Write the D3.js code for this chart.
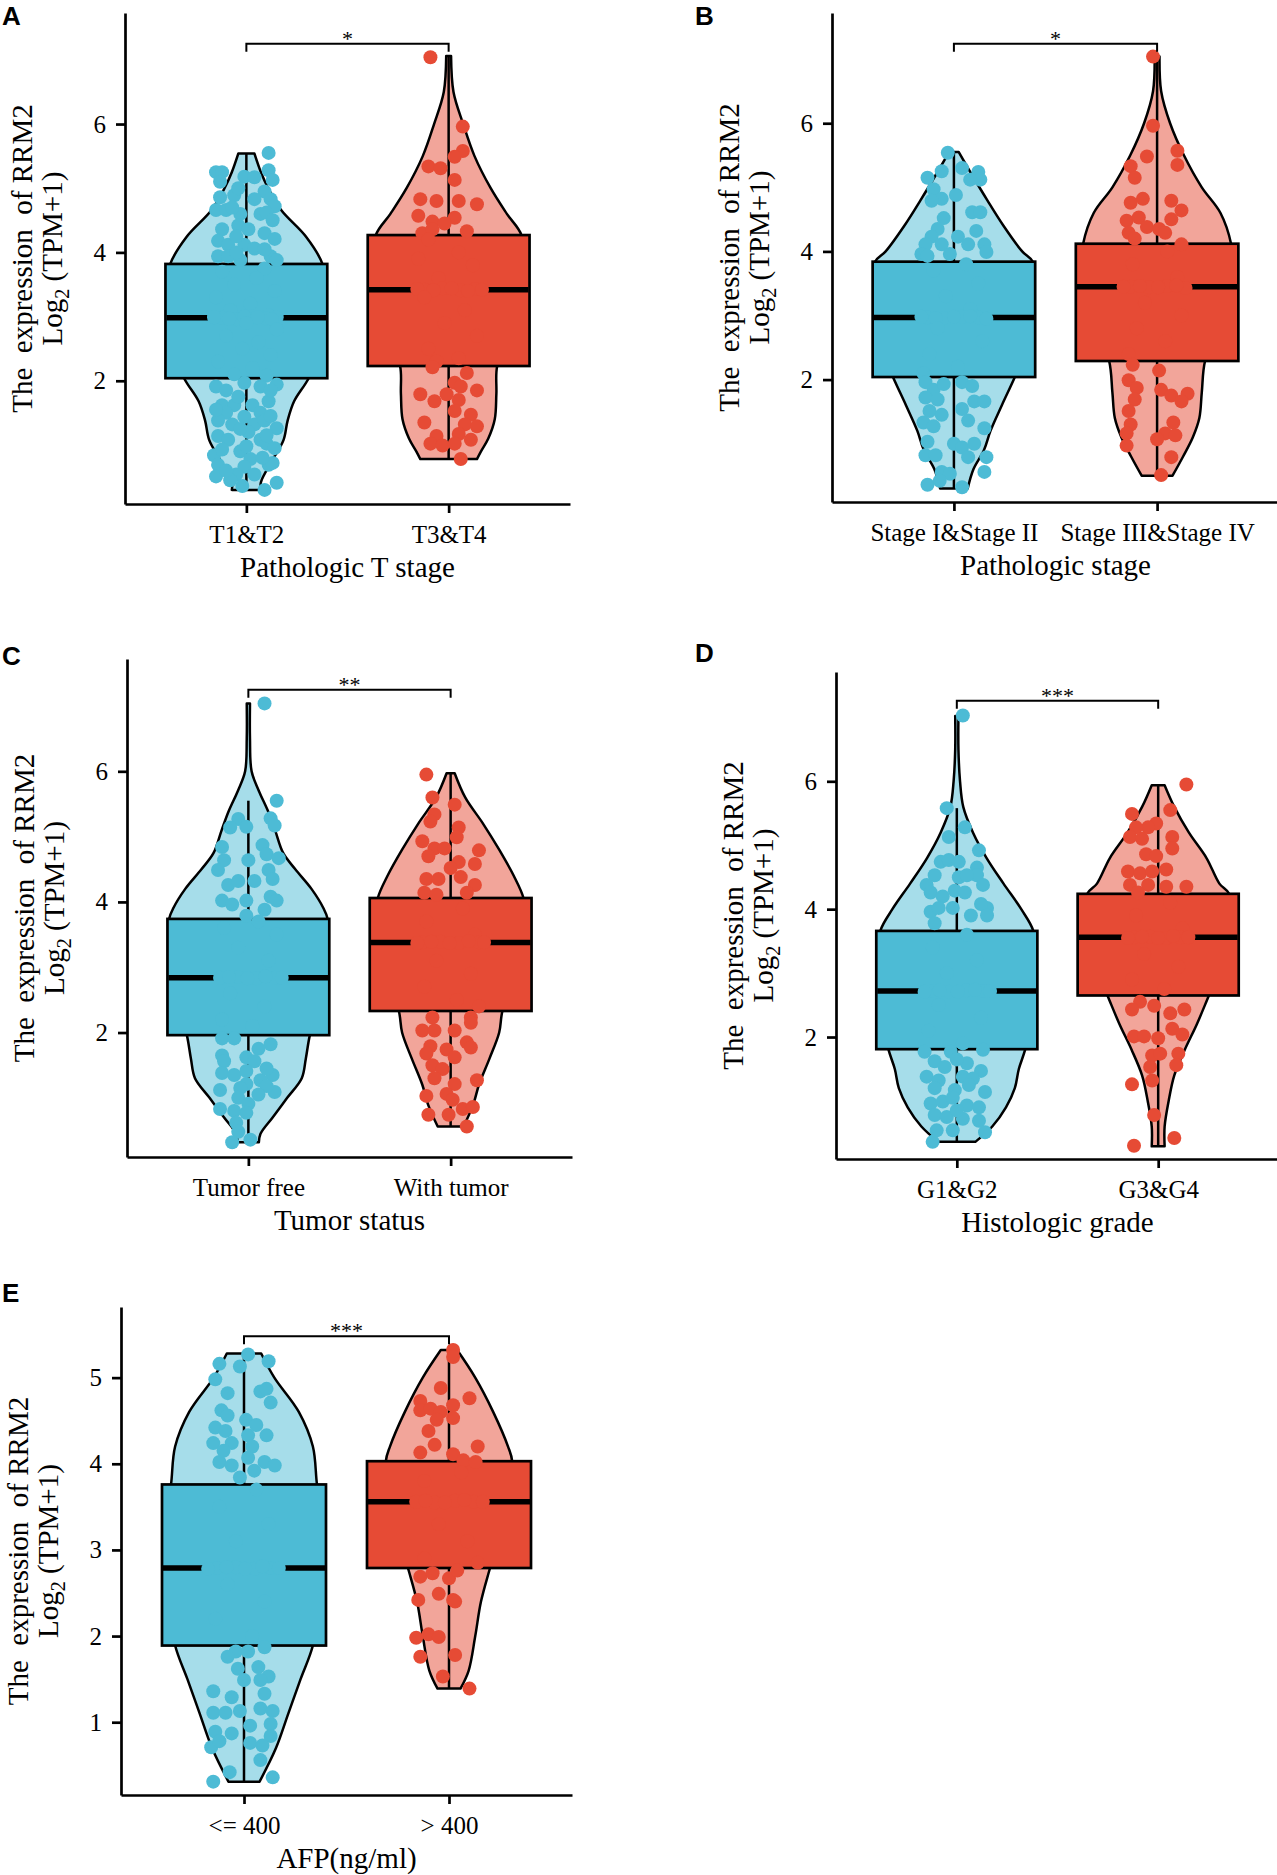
<!DOCTYPE html>
<html>
<head>
<meta charset="utf-8">
<script src="https://cdn.jsdelivr.net/npm/d3@7"></script>
<style>
    body { margin: 0; background: #fff; }
    svg text { font-family: "Liberation Serif", "Times New Roman", serif; }
</style>
</head>
<body>
<div id="chart"></div>
<script>

// ---------- data ----------
const panelIds = ["A", "B", "C", "D", "E"];
const xTitles = ["Pathologic T stage", "Pathologic stage", "Tumor status", "Histologic grade", "AFP(ng/ml)"];
const sigLevels = [7.25, 7.24, 7.25, 7.26, 5.48];
const sigLabels = ["*", "*", "**", "***", "***"];
const yTicksAD = [2, 4, 6];
const yTicksE = [1, 2, 3, 4, 5];

const groupsA = ["T1&T2", "T3&T4"];
const groupsB = ["Stage I&Stage II", "Stage III&Stage IV"];
const groupsC = ["Tumor free", "With tumor"];
const groupsD = ["G1&G2", "G3&G4"];
const groupsE = ["<= 400", "> 400"];

// [q1, median, q3]
const boxA = [[2.04, 2.98, 3.82], [2.23, 3.42, 4.27]];
const boxB = [[2.04, 2.97, 3.84], [2.29, 3.45, 4.12]];
const boxC = [[1.96, 2.84, 3.74], [2.33, 3.38, 4.06]];
const boxD = [[1.81, 2.72, 3.66], [2.65, 3.56, 4.24]];
const boxE = [[1.89, 2.79, 3.76], [2.79, 3.56, 4.03]];

// [low, high]
const whiskA = [[0.30, 5.54], [0.78, 7.06]];
const whiskB = [[0.30, 5.55], [0.50, 7.04]];
const whiskC = [[0.32, 5.55], [0.56, 5.97]];
const whiskD = [[0.36, 5.58], [0.29, 5.94]];
const whiskE = [[0.31, 5.28], [1.39, 5.32]];

// violin outline: [value, relative half width]
const violinA = [
    [[0.30,0.18],[0.42,0.18],[0.78,0.33],[1.08,0.46],[1.38,0.51],[1.68,0.59],[2.04,0.77],[2.5,0.92],[3.0,0.97],[3.4,0.98],[3.82,0.94],[4.24,0.74],[4.66,0.43],[5.0,0.27],[5.25,0.18],[5.54,0.10]],
    [[0.78,0.35],[0.9,0.40],[1.1,0.49],[1.4,0.57],[1.8,0.59],[2.23,0.60],[2.7,0.75],[3.2,0.88],[3.7,0.94],[4.27,0.90],[4.6,0.72],[5.0,0.52],[5.5,0.32],[6.0,0.18],[6.5,0.06],[7.06,0.03]]
];
const violinB = [
    [[0.30,0.17],[0.6,0.24],[0.9,0.37],[1.2,0.45],[1.6,0.59],[2.04,0.75],[2.5,0.90],[3.0,0.98],[3.5,0.99],[3.84,0.97],[4.0,0.84],[4.4,0.61],[4.8,0.41],[5.2,0.22],[5.55,0.06]],
    [[0.50,0.19],[0.8,0.32],[1.1,0.44],[1.4,0.52],[1.8,0.55],[2.29,0.59],[2.8,0.75],[3.3,0.88],[3.8,0.93],[4.12,0.91],[4.6,0.78],[5.0,0.55],[5.5,0.33],[6.0,0.16],[6.5,0.05],[7.04,0.03]]
];
const violinC = [
    [[0.32,0.13],[0.45,0.15],[0.7,0.30],[1.0,0.48],[1.3,0.66],[1.6,0.71],[1.96,0.76],[2.5,0.88],[3.0,0.96],[3.5,0.99],[3.74,0.98],[3.9,0.93],[4.2,0.78],[4.5,0.58],[4.75,0.43],[5.1,0.33],[5.4,0.24],[5.7,0.13],[6.0,0.04],[6.5,0.02],[7.04,0.02]],
    [[0.56,0.16],[0.9,0.28],[1.2,0.35],[1.6,0.48],[2.0,0.60],[2.33,0.64],[2.8,0.78],[3.3,0.88],[3.8,0.92],[4.06,0.90],[4.4,0.78],[4.8,0.60],[5.2,0.40],[5.6,0.18],[5.97,0.05]]
];
const violinD = [
    [[0.36,0.23],[0.6,0.44],[0.9,0.61],[1.2,0.72],[1.5,0.77],[1.81,0.85],[2.3,0.93],[2.8,0.97],[3.3,0.97],[3.66,0.95],[4.0,0.80],[4.4,0.58],[4.8,0.37],[5.2,0.20],[5.6,0.08],[6.0,0.04],[6.5,0.02],[7.02,0.02]],
    [[0.29,0.08],[0.6,0.08],[1.0,0.13],[1.4,0.20],[1.8,0.33],[2.2,0.48],[2.65,0.63],[3.1,0.78],[3.6,0.88],[4.24,0.88],[4.4,0.76],[4.8,0.60],[5.2,0.38],[5.6,0.20],[5.94,0.08]]
];
const violinE = [
    [[0.31,0.19],[0.7,0.39],[1.1,0.54],[1.5,0.69],[1.89,0.84],[2.4,0.92],[2.9,0.96],[3.4,0.95],[3.76,0.89],[4.2,0.84],[4.6,0.67],[5.0,0.37],[5.28,0.21]],
    [[1.39,0.14],[1.6,0.24],[2.0,0.32],[2.4,0.39],[2.79,0.50],[3.2,0.62],[3.6,0.72],[4.03,0.77],[4.2,0.72],[4.6,0.54],[5.0,0.32],[5.32,0.10]]
];

// jittered points: [value, jitter (x units)]
const dotsA = [
    [[5.55,0.11],[5.25,-0.15],[5.25,-0.12],[5.18,-0.01],[5.17,0.04],[5.28,0.11],[5.13,0.13],[5.10,-0.13],[4.86,-0.13],[4.89,-0.06],[4.95,0.09],[4.83,0.12],[4.72,0.14],[4.83,0.04],[4.66,-0.15],[4.66,-0.10],[4.60,-0.03],[4.60,0.07],[4.62,0.10],[4.36,-0.12],[4.42,-0.04],[4.36,0.01],[4.30,0.09],[4.21,0.14],[4.18,-0.14],[4.12,-0.09],[4.12,-0.01],[4.06,0.04],[3.94,-0.14],[3.94,-0.09],[3.94,0.12],[3.88,0.15],[3.88,-0.03],
     [4.50,0.13],[4.25,-0.05],[4.70,-0.07],[4.00,-0.05],[4.05,0.09],[5.00,-0.04],
     [3.75,0.09],[3.7,-0.12],[3.6,0.05],[3.5,-0.06],[3.4,0.14],[3.3,-0.15],[3.2,0.02],[3.1,-0.08],[3.02,0.11],[2.98,-0.12],[2.96,-0.05],[3.0,0.03],[2.97,0.10],[2.99,0.15],
     [2.99,-0.16],[2.97,-0.085],[3.0,-0.01],[2.99,0.055],[2.96,0.125],
     [2.9,0.0],[2.8,0.15],[2.7,-0.10],[2.6,0.06],[2.5,-0.02],[2.4,0.12],[2.3,-0.14],[2.2,0.03],[2.1,-0.06],[2.08,0.10],
     [1.91,-0.15],[1.85,-0.10],[1.97,-0.01],[1.91,0.07],[1.94,0.15],[1.68,0.11],[1.62,-0.12],[1.62,-0.06],[1.62,0.03],[1.50,0.07],[1.50,-0.10],[1.38,-0.14],[1.32,-0.07],[1.44,-0.01],[1.32,0.04],[1.38,0.09],[1.26,0.15],[1.14,-0.14],[1.08,-0.09],[1.20,0.01],[1.08,0.07],[1.02,0.10],[0.84,-0.16],[0.93,-0.12],[0.90,-0.03],[0.78,0.02],[0.69,-0.14],[0.66,-0.01],[0.69,0.11],[0.72,0.13],[0.54,-0.05],[0.54,0.04],[0.51,-0.15],[0.36,-0.02],[0.30,0.09],[0.41,0.15],[0.45,-0.08],
     [1.75,-0.04],[1.45,0.12],[1.25,-0.03],[0.98,0.00],[0.80,0.08],[0.60,-0.10],[1.55,-0.15],[1.85,0.12],[0.95,0.14],[1.15,0.10]],
    [[7.04,-0.09],[5.96,0.07],[5.58,0.07],[5.49,0.03],[5.34,-0.10],[5.31,-0.04],[5.13,0.03],[4.83,-0.14],[4.80,-0.06],[4.80,0.05],[4.75,0.14],[4.57,-0.15],[4.48,-0.08],[4.54,0.03],[4.30,-0.13],[4.36,-0.08],[4.33,0.09],[4.45,-0.02],
     [4.2,-0.10],[4.0,0.05],[3.9,-0.15],[3.8,0.12],[3.6,-0.05],[3.42,-0.12],[3.44,-0.03],[3.41,0.06],[3.43,0.13],
     [3.41,-0.075],[3.44,0.015],[3.40,0.095],[3.43,-0.155],[3.42,0.165],
     [3.3,-0.12],[3.1,0.08],[2.9,-0.02],[2.7,0.14],[2.5,-0.10],[2.35,0.05],[2.3,-0.06],
     [2.12,0.09],[2.21,-0.08],[1.97,0.03],[1.91,0.06],[1.85,0.14],[1.79,-0.14],[1.79,-0.01],[1.70,0.05],[1.68,-0.07],[1.53,0.03],[1.47,0.11],[1.35,-0.12],[1.32,0.08],[1.29,0.14],[1.14,-0.06],[1.17,0.05],[1.08,0.11],[1.02,-0.09],[0.99,-0.03],[1.02,0.03],[0.78,0.06]]
];
const dotsB = [
    [[5.54,-0.03],[5.15,-0.13],[5.25,-0.06],[5.30,0.04],[5.24,0.12],[5.12,0.13],[5.12,0.08],[4.97,-0.10],[4.82,-0.06],[4.88,0.01],[4.79,-0.11],[4.61,0.09],[4.61,0.13],[4.52,-0.05],[4.35,-0.08],[4.23,-0.11],[4.32,0.11],[4.11,-0.14],[4.11,-0.06],[4.23,0.02],[4.11,0.07],[4.11,0.15],[3.99,0.16],[3.96,-0.16],[3.93,-0.13],[3.96,-0.02],
     [3.8,0.06],[3.7,-0.10],[3.5,0.12],[3.3,-0.04],[3.1,0.08],[2.97,-0.13],[2.96,-0.05],[2.98,0.04],[2.97,0.12],
     [2.96,-0.09],[2.98,0.0],[2.99,0.08],[2.95,0.16],[2.98,-0.16],
     [2.8,-0.08],[2.6,0.14],[2.4,-0.12],[2.2,0.02],[2.1,-0.15],
     [1.96,-0.14],[1.84,-0.10],[1.93,-0.05],[1.96,0.04],[1.90,0.09],[1.72,-0.14],[1.69,-0.08],[1.66,0.10],[1.66,0.15],[1.51,-0.12],[1.45,-0.06],[1.54,0.04],[1.33,-0.15],[1.27,-0.10],[1.36,0.07],[1.24,0.15],[1.03,-0.13],[1.00,0.00],[0.94,0.04],[1.00,0.10],[0.82,-0.14],[0.82,-0.09],[0.79,0.07],[0.79,0.16],[0.56,-0.06],[0.53,-0.02],[0.56,0.15],[0.36,-0.13],[0.42,-0.07],[0.32,0.04]],
    [[7.04,-0.02],[5.96,-0.02],[5.48,-0.05],[5.57,0.10],[5.33,-0.13],[5.35,0.10],[5.15,-0.11],[4.76,-0.13],[4.82,-0.07],[4.79,0.07],[4.64,0.12],[4.48,-0.15],[4.53,-0.09],[4.50,0.07],[4.29,-0.14],[4.38,-0.05],[4.35,0.01],[4.29,0.04],[4.20,-0.11],[4.11,0.12],
     [4.0,0.05],[3.8,-0.12],[3.6,0.10],[3.45,-0.13],[3.44,-0.04],[3.46,0.05],[3.43,0.14],
     [3.46,-0.085],[3.44,0.005],[3.47,0.095],[3.45,-0.165],
     [3.2,-0.06],[3.0,0.12],[2.8,-0.10],[2.6,0.04],[2.4,-0.14],
     [2.23,-0.12],[2.14,0.01],[1.99,-0.14],[1.87,-0.10],[1.84,0.02],[1.75,0.07],[1.78,0.15],[1.66,0.12],[1.69,-0.11],[1.51,-0.14],[1.30,-0.13],[1.33,0.08],[1.16,0.04],[1.16,-0.15],[1.07,0.00],[1.13,0.09],[0.97,-0.15],[0.79,0.07],[0.51,0.02]]
];
const dotsC = [
    [[7.04,0.08],[5.55,0.14],[5.27,-0.05],[5.15,-0.01],[5.14,-0.09],[5.28,0.11],[5.17,0.13],[4.84,-0.13],[4.87,0.07],[4.64,-0.12],[4.49,-0.15],[4.64,0.00],[4.73,0.09],[4.67,0.15],[4.49,0.10],[4.35,0.12],[4.26,-0.10],[4.32,-0.05],[4.32,0.03],[4.02,-0.13],[3.96,-0.08],[4.02,-0.01],[4.08,0.11],[4.02,0.14],[3.88,0.08],[3.79,-0.01],
     [3.7,0.05],[3.6,-0.12],[3.5,0.14],[3.3,-0.05],[3.1,0.10],[2.84,-0.14],[2.85,-0.05],[2.83,0.04],[2.84,0.13],
     [2.85,-0.095],[2.83,-0.005],[2.86,0.085],[2.84,0.165],
     [2.6,-0.09],[2.4,0.08],[2.2,-0.13],[2.1,0.02],
     [1.91,-0.13],[1.91,-0.07],[1.82,0.11],[1.65,-0.13],[1.56,-0.12],[1.62,-0.01],[1.56,0.03],[1.38,-0.13],[1.35,-0.07],[1.41,-0.01],[1.35,0.12],[1.27,0.06],[1.21,-0.01],[1.15,-0.04],[1.12,-0.14],[1.09,0.13],[1.18,0.09],[1.00,-0.05],[0.91,0.00],[0.83,-0.14],[0.80,-0.07],[0.77,-0.01],[0.62,-0.06],[0.48,-0.05],[0.32,-0.08],[0.36,0.01],
     [1.75,0.05],[1.45,0.09],[1.05,0.05]],
    [[5.95,-0.12],[5.60,-0.09],[5.49,0.02],[5.34,-0.08],[5.23,-0.10],[5.14,0.04],[4.99,0.03],[4.93,-0.14],[4.82,-0.08],[4.82,-0.03],[4.79,0.14],[4.58,0.12],[4.70,-0.11],[4.61,0.04],[4.52,0.00],[4.35,-0.12],[4.35,-0.06],[4.38,0.05],[4.26,0.12],[4.14,-0.13],[4.11,-0.07],[4.14,0.08],
     [3.9,0.06],[3.7,-0.12],[3.5,0.12],[3.38,-0.14],[3.39,-0.05],[3.37,0.04],[3.38,0.14],
     [3.39,-0.095],[3.37,-0.005],[3.40,0.09],[3.38,0.165],[3.37,-0.165],
     [3.1,-0.07],[2.9,0.10],[2.7,-0.13],[2.5,0.03],[2.4,0.14],
     [2.23,-0.09],[2.23,0.10],[2.15,0.10],[2.03,-0.14],[2.03,-0.08],[2.03,0.02],[1.85,0.08],[1.77,0.10],[1.79,-0.10],[1.68,-0.12],[1.74,-0.02],[1.62,0.02],[1.50,-0.09],[1.44,-0.04],[1.30,-0.08],[1.21,0.02],[1.27,0.13],[1.03,-0.12],[1.06,-0.02],[0.97,0.01],[0.74,-0.11],[0.83,0.06],[0.86,0.11],[0.74,-0.01],[0.56,0.08]]
];
const dotsD = [
    [[7.03,0.03],[5.58,-0.05],[5.28,0.04],[5.13,-0.04],[4.92,0.11],[4.74,-0.08],[4.77,-0.04],[4.74,0.01],[4.65,0.10],[4.53,0.10],[4.53,-0.11],[4.38,-0.15],[4.50,0.01],[4.53,0.05],[4.38,0.13],[4.26,-0.13],[4.20,-0.07],[4.29,-0.01],[4.26,0.04],[3.96,-0.13],[4.02,-0.09],[4.02,0.15],[4.08,0.12],[4.02,-0.02],[3.90,0.07],[3.78,-0.11],[3.90,0.15],
     [3.6,0.05],[3.4,-0.12],[3.2,0.10],[3.0,-0.05],[2.72,-0.13],[2.71,-0.04],[2.73,0.05],[2.72,0.13],
     [2.73,-0.085],[2.71,0.005],[2.74,0.09],[2.72,0.165],[2.71,-0.16],
     [2.5,-0.09],[2.3,0.12],[2.1,-0.14],[1.9,0.03],
     [1.77,-0.16],[1.77,-0.03],[1.80,0.13],[1.62,-0.11],[1.53,-0.06],[1.59,0.05],[1.47,0.12],[1.38,-0.15],[1.32,-0.09],[1.38,0.03],[1.35,0.08],[1.20,-0.11],[1.17,-0.01],[1.14,0.14],[0.96,-0.13],[0.99,-0.07],[0.93,0.05],[0.90,0.11],[0.78,-0.11],[0.75,-0.05],[0.69,0.11],[0.72,0.03],[0.54,-0.10],[0.54,-0.02],[0.51,0.14],[0.36,-0.12],
     [1.65,0.00],[1.25,0.06],[1.05,-0.02],[0.85,0.00]],
    [[5.95,0.14],[5.55,0.06],[5.49,-0.13],[5.34,-0.01],[5.28,-0.05],[5.28,-0.11],[5.13,-0.14],[5.10,-0.08],[5.13,0.07],[4.86,-0.06],[4.83,-0.01],[4.95,0.07],[4.59,-0.15],[4.56,-0.09],[4.59,-0.03],[4.62,0.04],[4.38,-0.14],[4.38,-0.05],[4.35,0.04],[4.35,0.14],[4.26,-0.10],
     [4.1,0.06],[3.9,-0.11],[3.7,0.12],[3.56,-0.12],[3.57,-0.04],[3.55,0.04],[3.56,0.11],
     [3.57,-0.08],[3.55,0.0],[3.58,0.075],[3.56,0.15],[3.55,-0.15],
     [3.3,-0.07],[3.1,0.10],[2.9,-0.13],[2.75,0.03],
     [2.55,-0.09],[2.49,-0.02],[2.43,0.13],[2.43,-0.13],[2.37,0.06],[2.01,-0.12],[2.01,-0.07],[1.98,0.00],[2.13,0.07],[2.04,0.12],[1.71,-0.03],[1.74,0.01],[1.74,0.10],[1.53,-0.04],[1.56,0.09],[1.26,-0.13],[1.32,-0.03],[0.78,-0.02],[0.30,-0.12],[0.42,0.08]]
];
const dotsE = [
    [[5.27,0.02],[5.13,-0.02],[5.16,-0.12],[5.19,0.12],[4.98,-0.14],[4.82,-0.08],[4.84,0.08],[4.87,0.11],[4.71,0.13],[4.62,-0.11],[4.56,-0.08],[4.51,0.01],[4.42,-0.14],[4.38,-0.09],[4.33,0.02],[4.33,0.11],[4.24,-0.15],[4.24,-0.06],[4.20,0.04],[4.02,-0.12],[3.98,-0.06],[4.07,0.02],[4.02,0.10],[3.98,0.15],[3.84,-0.02],
     [3.7,0.06],[3.5,-0.12],[3.3,0.12],[3.1,-0.04],[2.79,-0.13],[2.80,-0.04],[2.78,0.05],[2.79,0.13],
     [2.80,-0.085],[2.78,0.005],[2.81,0.09],[2.79,0.17],[2.78,-0.175],
     [2.6,-0.08],[2.4,0.10],[2.2,-0.14],[2.0,0.04],
     [1.82,-0.04],[1.82,0.02],[1.87,0.10],[1.76,-0.08],[1.62,-0.03],[1.64,0.07],[1.53,0.12],[1.49,0.00],[1.49,0.08],[1.36,-0.15],[1.29,-0.06],[1.13,-0.02],[1.33,0.10],[1.11,-0.15],[1.11,-0.09],[1.16,0.08],[1.13,0.14],[0.96,0.03],[0.98,0.13],[0.89,-0.14],[0.87,-0.06],[0.84,0.13],[0.71,-0.16],[0.78,-0.12],[0.76,0.03],[0.73,0.09],[0.56,0.08],[0.42,-0.07],[0.31,-0.15],[0.36,0.14],
     [4.45,0.06],[4.15,-0.10],[3.92,0.05]],
    [[5.32,0.02],[5.24,0.02],[4.88,-0.04],[4.76,0.10],[4.73,-0.14],[4.68,0.02],[4.62,-0.14],[4.64,-0.09],[4.60,-0.04],[4.53,0.02],[4.51,-0.06],[4.38,-0.10],[4.22,-0.07],[4.20,0.14],[4.13,-0.14],[4.11,0.02],[4.04,0.07],[4.02,0.13],
     [3.9,0.06],[3.8,-0.12],[3.56,-0.16],[3.55,-0.07],[3.57,0.03],[3.56,0.12],
     [3.57,-0.115],[3.55,-0.02],[3.58,0.075],[3.56,0.165],
     [3.3,-0.05],[3.1,0.09],[2.9,-0.12],[2.85,0.14],
     [2.69,-0.14],[2.73,-0.08],[2.67,0.00],[2.76,0.04],[2.42,-0.15],[2.49,-0.05],[2.42,0.02],[2.40,0.03],[1.98,-0.16],[2.02,-0.10],[1.99,-0.05],[1.76,-0.14],[1.78,0.03],[1.53,-0.03],[1.39,0.10]]
];

// ---------- drawing ----------
const blue = "#4DBBD5";
const red = "#E64B35";
const groupColors = [blue, red];
const serif = '"Liberation Serif", "Times New Roman", serif';

const svg = d3.select("#chart").append("svg")
    .attr("width", 1277)
    .attr("height", 1875);

// pixel frame of every panel (axis lines) and y range
const layouts = [
    {left: 125, right: 570, top: 13, bottom: 504, yDomain: [0.08, 7.73], labelX: 2, labelY: 25},
    {left: 832, right: 1279, top: 13, bottom: 502, yDomain: [0.09, 7.72], labelX: 695, labelY: 25},
    {left: 127, right: 572, top: 659, bottom: 1157, yDomain: [0.094, 7.72], labelX: 2, labelY: 665},
    {left: 836, right: 1279, top: 672, bottom: 1159, yDomain: [0.092, 7.71], labelX: 695, labelY: 662},
    {left: 121, right: 572, top: 1307, bottom: 1795, yDomain: [0.155, 5.82], labelX: 2, labelY: 1302}
];

const panelData = [
    {groups: groupsA, box: boxA, whisk: whiskA, violin: violinA, dots: dotsA, ticks: yTicksAD},
    {groups: groupsB, box: boxB, whisk: whiskB, violin: violinB, dots: dotsB, ticks: yTicksAD},
    {groups: groupsC, box: boxC, whisk: whiskC, violin: violinC, dots: dotsC, ticks: yTicksAD},
    {groups: groupsD, box: boxD, whisk: whiskD, violin: violinD, dots: dotsD, ticks: yTicksAD},
    {groups: groupsE, box: boxE, whisk: whiskE, violin: violinE, dots: dotsE, ticks: yTicksE}
];

panelIds.forEach((id, p) => drawPanel(p));

function drawPanel(p) {
    let lay = layouts[p];
    let d = panelData[p];
    let g = svg.append("g").attr("class", "panel-" + panelIds[p]);

    let x = d3.scaleLinear().domain([0.4, 2.6]).range([lay.left, lay.right]);
    let y = d3.scaleLinear().domain(lay.yDomain).range([lay.bottom, lay.top]);
    let boxHalf = 0.4 * (x(1) - x(0));

    // violins
    d.violin.forEach((v, i) => {
        let cx = x(i + 1);
        let area = d3.area()
            .y(e => y(e[0]))
            .x0(e => cx - e[1] * boxHalf)
            .x1(e => cx + e[1] * boxHalf)
            .curve(d3.curveCatmullRom.alpha(0.5));
        g.append("path")
            .datum(v)
            .attr("d", area)
            .attr("fill", groupColors[i])
            .attr("fill-opacity", 0.5)
            .attr("stroke", "#000")
            .attr("stroke-width", 2.5)
            .attr("stroke-linejoin", "round");
    });

    // boxplots
    d.box.forEach((b, i) => {
        let cx = x(i + 1);
        g.append("line")
            .attr("x1", cx).attr("x2", cx)
            .attr("y1", y(b[2])).attr("y2", y(d.whisk[i][1]))
            .attr("stroke", "#000").attr("stroke-width", 2.5);
        g.append("line")
            .attr("x1", cx).attr("x2", cx)
            .attr("y1", y(b[0])).attr("y2", y(d.whisk[i][0]))
            .attr("stroke", "#000").attr("stroke-width", 2.5);
        g.append("rect")
            .attr("x", cx - boxHalf)
            .attr("width", 2 * boxHalf)
            .attr("y", y(b[2]))
            .attr("height", y(b[0]) - y(b[2]))
            .attr("fill", groupColors[i])
            .attr("stroke", "#000")
            .attr("stroke-width", 2.7);
        g.append("line")
            .attr("x1", cx - boxHalf + 1).attr("x2", cx + boxHalf - 1)
            .attr("y1", y(b[1])).attr("y2", y(b[1]))
            .attr("stroke", "#000").attr("stroke-width", 5.5);
    });

    // jittered points
    d.dots.forEach((pts, i) => {
        g.append("g").selectAll("circle")
            .data(pts)
            .enter().append("circle")
            .attr("cx", e => x(i + 1 + e[1]))
            .attr("cy", e => y(e[0]))
            .attr("r", 7)
            .attr("fill", groupColors[i]);
    });

    // axes
    let yAxis = g.append("g")
        .attr("transform", `translate(${lay.left},0)`)
        .call(d3.axisLeft(y).tickValues(d.ticks).tickFormat(d3.format("d")).tickSize(9).tickSizeOuter(0).tickPadding(10));
    let xAxis = g.append("g")
        .attr("transform", `translate(0,${lay.bottom})`)
        .call(d3.axisBottom(x).tickValues([1, 2]).tickFormat(t => d.groups[t - 1]).tickSize(9).tickSizeOuter(0).tickPadding(12));

    [yAxis, xAxis].forEach(ax => {
        ax.attr("font-family", serif).attr("font-size", 25);
        ax.select(".domain").attr("stroke", "#000").attr("stroke-width", 2.7);
        ax.selectAll(".tick line").attr("stroke", "#000").attr("stroke-width", 2.7);
        ax.selectAll(".tick text").attr("fill", "#000").style("font-family", serif);
    });

    // axis titles
    let midX = (lay.left + lay.right) / 2;
    let midY = (lay.top + lay.bottom) / 2;
    g.append("text")
        .attr("x", midX)
        .attr("y", lay.bottom + 73)
        .attr("text-anchor", "middle")
        .attr("font-size", 29)
        .text(xTitles[p]);

    g.append("text")
        .attr("transform", `translate(${lay.left - 93},${midY}) rotate(-90)`)
        .attr("text-anchor", "middle")
        .attr("font-size", 29)
        .style("white-space", "pre")
        .text("The  expression  of RRM2");

    let t2 = g.append("text")
        .attr("transform", `translate(${lay.left - 63},${midY}) rotate(-90)`)
        .attr("text-anchor", "middle")
        .attr("font-size", 29);
    t2.append("tspan").text("Log");
    t2.append("tspan").attr("font-size", 20).attr("dy", 7).text("2");
    t2.append("tspan").attr("dy", -7).style("white-space", "pre").text(" (TPM+1)");

    // significance bracket
    let sy = y(sigLevels[p]);
    let x1 = x(1), x2 = x(2);
    g.append("path")
        .attr("d", `M${x1},${sy + 8}V${sy}H${x2}V${sy + 8}`)
        .attr("fill", "none")
        .attr("stroke", "#000")
        .attr("stroke-width", 2);
    g.append("text")
        .attr("x", (x1 + x2) / 2)
        .attr("y", sy + 2)
        .attr("text-anchor", "middle")
        .attr("font-size", 22)
        .text(sigLabels[p]);

    // panel letter
    svg.append("text")
        .attr("x", lay.labelX)
        .attr("y", lay.labelY)
        .style("font-family", '"Liberation Sans", Arial, sans-serif')
        .attr("font-weight", "bold")
        .attr("font-size", 26)
        .text(panelIds[p]);
}
</script>
</body>
</html>
